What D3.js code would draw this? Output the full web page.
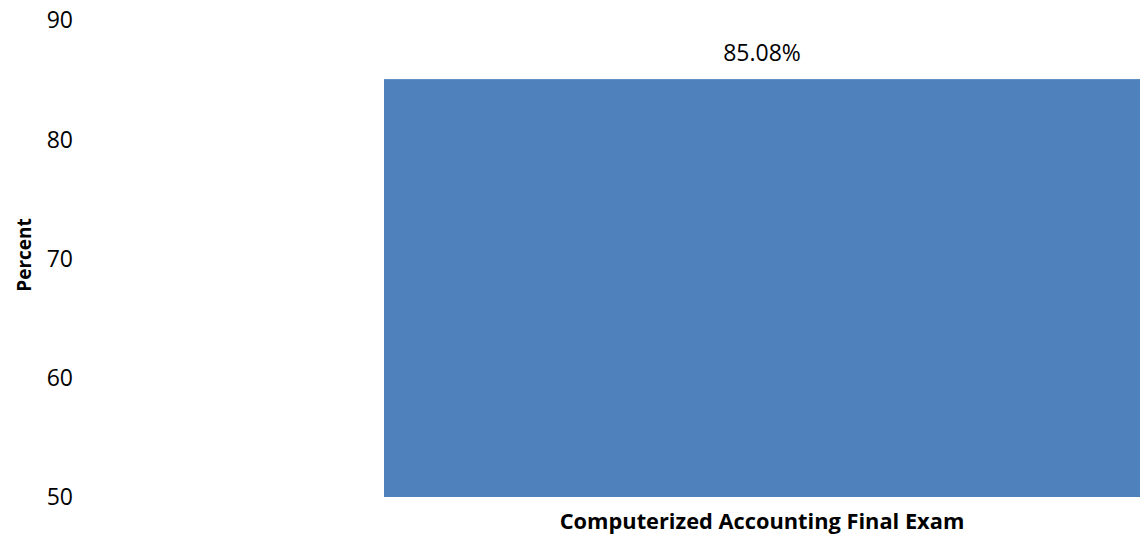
<!DOCTYPE html>
<html>
<head>
<meta charset="utf-8">
<script src="https://cdn.jsdelivr.net/npm/d3@7"></script>
<style>
  html, body { margin: 0; padding: 0; background: #fff; }
  svg { display: block; }
  text { font-family: "Open Sans", "Noto Sans", sans-serif; fill: #000; }
</style>
</head>
<body>
<svg id="chart" width="1140" height="538"></svg>
<script>
const categories = ["Computerized Accounting Final Exam"];
const values = [85.08];
const valueLabels = ["85.08%"];
const yTicks = [50, 60, 70, 80, 90];
const yTitle = "Percent";

const svg = d3.select("#chart");

const y = d3.scaleLinear().domain([50, 90]).range([497, 20.5]);
const x = d3.scaleBand().domain(categories).range([384, 1140]).paddingInner(0).paddingOuter(0);

// Y axis (labels only)
const yAxis = d3.axisLeft(y).tickValues(yTicks).tickSize(0).tickPadding(0);
const gy = svg.append("g").attr("transform", "translate(73,0)").call(yAxis);
gy.select(".domain").remove();
gy.selectAll("text")
  .style("font-family", '"Open Sans", sans-serif')
  .style("font-size", "23px")
  .attr("fill", "#000");

// Bars
svg.append("g").selectAll("rect")
  .data(values)
  .join("rect")
  .attr("x", (d, i) => x(categories[i]))
  .attr("width", x.bandwidth())
  .attr("y", d => y(d))
  .attr("height", d => y(50) - y(d))
  .attr("fill", "#4F81BD");

// Value labels
svg.append("g").selectAll("text")
  .data(values)
  .join("text")
  .attr("x", (d, i) => x(categories[i]) + x.bandwidth() / 2)
  .attr("y", d => y(d) - 18)
  .attr("text-anchor", "middle")
  .style("font-size", "23px")
  .text((d, i) => valueLabels[i]);

// X axis category labels
const xAxis = d3.axisBottom(x).tickSize(0).tickPadding(0);
const gx = svg.append("g").attr("transform", "translate(0,497)").call(xAxis);
gx.select(".domain").remove();
gx.selectAll("text")
  .attr("dy", null)
  .attr("y", 32)
  .style("font-family", '"Open Sans", sans-serif')
  .style("font-size", "21.8px")
  .style("font-weight", "bold")
  .attr("fill", "#000");

// Y title
svg.append("text")
  .attr("transform", "translate(31,255) rotate(-90)")
  .attr("text-anchor", "middle")
  .style("font-size", "19px")
  .style("font-weight", "bold")
  .text(yTitle);
</script>
</body>
</html>
